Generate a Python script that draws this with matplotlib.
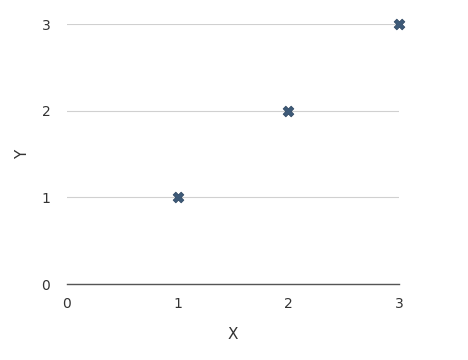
import matplotlib
matplotlib.use("Agg")
import matplotlib.pyplot as plt

x = [1, 2, 3]
y = [1, 2, 3]
ticks = [0, 1, 2, 3]

fig = plt.figure(figsize=(4.68, 3.60), dpi=100)
ax = fig.add_axes([0.143, 0.211, 0.710, 0.722])

ax.scatter(x, y, marker="X", s=60, color="#3d5a78", edgecolors="#2e4560",
           linewidths=0.5, zorder=3, clip_on=False)

ax.set_xlim(0, 3)
ax.set_ylim(0, 3)
ax.set_xticks(ticks)
ax.set_yticks(ticks)
ax.tick_params(length=0, labelsize=10, colors="#333333")
ax.tick_params(axis="x", pad=9)
ax.tick_params(axis="y", pad=12)

for s in ["top", "right", "left"]:
    ax.spines[s].set_visible(False)
ax.spines["bottom"].set_color("#555555")
ax.spines["bottom"].set_linewidth(1.0)

ax.grid(axis="y", color="#d0d0d0", linewidth=0.8)
ax.set_axisbelow(True)

ax.set_xlabel("X", fontsize=11, color="#333333", labelpad=12)
ax.set_ylabel("Y", fontsize=11, color="#333333", labelpad=8)

fig.savefig("out.png", dpi=100)
